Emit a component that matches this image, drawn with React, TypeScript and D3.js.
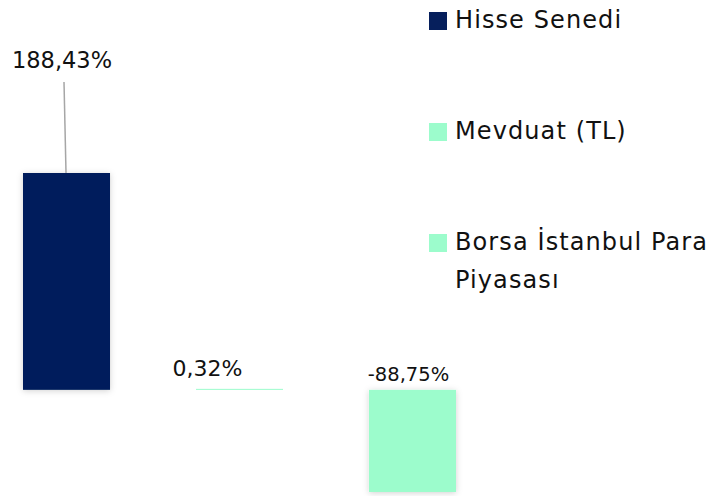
import React from 'react';
import * as d3 from 'd3';

const categories = ['Hisse Senedi', 'Mevduat (TL)', 'Borsa İstanbul Para Piyasası'];
const values = [188.43, 0.32, -88.75];
const valueLabels = ['188,43%', '0,32%', '-88,75%'];
const colors = ['#061f5c', '#9cfccc', '#9cfccc'];
const legendLines = [['Hisse Senedi'], ['Mevduat (TL)'], ['Borsa İstanbul Para', 'Piyasası']];

const WIDTH = 726;
const HEIGHT = 496;
const FONT = '"DejaVu Sans", "Noto Sans", sans-serif';

export default function App() {
  const xScale = d3
    .scaleBand<string>()
    .domain(categories)
    .range([23, 456])
    .paddingInner(0.497)
    .paddingOuter(0);

  const yScale = d3
    .scaleLinear()
    .domain([d3.min(values) || 0, d3.max(values) || 0])
    .range([492, 173]);

  const y0 = yScale(0);
  const bw = xScale.bandwidth();

  // label offsets from bar centre
  const labelPos = [
    { dx: -4.5, y: 68, size: 22.5 },
    { dx: -32, y: 376, size: 22 },
    { dx: -4, y: 381, size: 19.5 }
  ];

  return (
    <svg
      width={WIDTH}
      height={HEIGHT}
      style={{ position: 'absolute', left: 0, top: 0, background: '#fff' }}
      fontFamily={FONT}
    >
      <defs>
        <filter id="shadow" x="-20%" y="-20%" width="140%" height="140%">
          <feDropShadow dx="0" dy="1" stdDeviation="3" floodColor="#000" floodOpacity="0.18" />
        </filter>
      </defs>

      {/* bars */}
      <g>
        {categories.map((c, i) => {
          const x = xScale(c) || 0;
          const y = yScale(Math.max(0, values[i]));
          const h = Math.max(Math.abs(yScale(values[i]) - y0), 1);
          return (
            <rect
              key={c}
              x={x}
              y={values[i] >= 0 ? Math.min(y, y0 - 1) : y0}
              width={bw}
              height={h}
              fill={colors[i]}
              filter={i === 1 ? undefined : 'url(#shadow)'}
            />
          );
        })}
      </g>

      {/* leader line */}
      <line
        x1={(xScale(categories[0]) || 0) + bw / 2 - 2.5}
        y1={82}
        x2={(xScale(categories[0]) || 0) + bw / 2 - 0.5}
        y2={yScale(values[0])}
        stroke="#a6a6a6"
        strokeWidth={1.5}
      />

      {/* value labels */}
      {categories.map((c, i) => (
        <text
          key={c}
          x={(xScale(c) || 0) + bw / 2 + labelPos[i].dx}
          y={labelPos[i].y}
          fontSize={labelPos[i].size}
          textAnchor="middle"
          fill="#111"
        >
          {valueLabels[i]}
        </text>
      ))}

      {/* legend */}
      <g transform="translate(429, 0)">
        {legendLines.map((lines, i) => {
          const top = [12, 123, 234][i];
          return (
            <g key={i}>
              <rect x={0} y={top} width={18} height={18} fill={colors[i]} />
              {lines.map((t, j) => (
                <text
                  key={j}
                  x={26}
                  y={top + 16 + j * 38}
                  fontSize={24}
                  letterSpacing={1.1}
                  fill="#111"
                >
                  {t}
                </text>
              ))}
            </g>
          );
        })}
      </g>
    </svg>
  );
}
